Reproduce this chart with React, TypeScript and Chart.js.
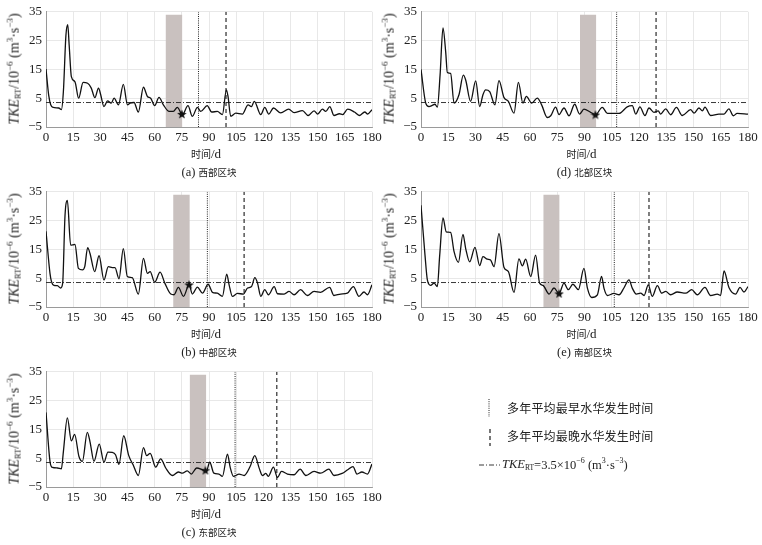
import { useEffect, useRef } from "react";
import { Chart, registerables } from "chart.js";

Chart.register(...registerables);

// ---- data ----
const tkeThreshold = 3.5;
const bandTop = 34;

// (a) 西部区块
const westDays = [0, 1.5, 2.6, 4, 7, 8.5, 9.6, 11, 12, 12.8, 14, 16, 18, 20.5, 23, 25, 27, 29, 30.2, 32, 34, 36, 37.6, 40, 42.7, 45, 46.4, 48.6, 51, 53.8, 56, 57.8, 60, 62.4, 64.8, 68, 70.3, 72.5, 75.3, 78.4, 80.8, 83.6, 85.4, 89, 91.5, 94.6, 97.4, 99.6, 100.5, 102, 104.8, 108.4, 111.6, 113.4, 115, 118.6, 120.8, 123, 125.6, 129.6, 134, 137, 141.6, 144.8, 148, 150, 152.6, 154.5, 156.7, 159, 162, 163.8, 166.6, 170.3, 173, 176, 177.6, 180];
const westTke = [15.1, 6, 2.7, 1.8, 1.6, 1.0, 7.3, 26.8, 30.5, 23.4, 12.5, 10.7, 5, 10.5, 10.2, 8.5, 5.2, 8.5, 6.2, 2.1, 4.1, 3.3, 5, 2.7, 9.8, 2.7, 3.3, 3.5, 0.2, 8.8, 5.6, 5, 2.4, 5.3, 2.7, 0.4, 0.4, 1.8, -0.7, 2.4, -1.3, 1.8, 0.4, 2.4, 0.2, 0.4, -0.7, 7.9, 5.6, -1.3, -0.2, -0.5, 2.7, 2.1, 3.9, -0.7, 1.8, -0.5, 1.6, -0.1, 1.2, 0, 0.7, -1, 0.6, -0.5, 1.2, 0.4, 2.1, -1, -0.4, -0.7, 1.2, 0.2, -1, 0.2, -0.5, 1];

// (d) 北部区块
const northDays = [0, 2.6, 4.4, 6.2, 7.7, 9, 10.5, 12.1, 13.6, 14.5, 16.3, 18.2, 20.9, 23.3, 24.6, 27.3, 30.1, 32.3, 34.1, 35.6, 37.8, 40.7, 42.9, 45.7, 48.1, 51.2, 53.6, 56.1, 58, 60.9, 64, 66.4, 69.5, 71.4, 74.1, 76, 78.7, 81.5, 84.6, 87.3, 89.7, 93.4, 96.1, 99.8, 102.6, 109, 113.5, 116.3, 118.2, 120.5, 123.3, 125.5, 128.2, 130.6, 131.9, 134.7, 137.4, 140.6, 143.8, 148.4, 150.3, 153, 154.9, 156.3, 159.4, 164, 166.8, 169.5, 171.9, 174, 180];
const northTke = [15, 3.3, 2.1, 2.5, 2.9, 1.9, 13, 29.4, 21, 13.9, 13.6, 3.3, 6.2, 13, 11.3, 3.9, 11, 2.1, 6.2, 7.9, 7.3, 2.7, 11.1, 5.2, 3.9, -0.2, 10.5, 3.3, 5.6, 3.3, 5, 2.7, -1.7, -1.1, 1.9, -0.7, 1.6, -1.1, 2.9, -0.5, 1.2, 0.1, -0.7, 1.8, -0.3, -0.3, 2, 2.4, -0.5, 2, -1, 1.6, 0.1, 0.6, -0.5, 1.3, -0.75, 1.8, -1, 1, -0.2, 1.6, 0.6, 1.9, -1, -0.5, -0.5, 1.3, -1.1, -0.3, -0.5];

// (b) 中部区块
const centralDays = [0, 2.2, 3, 4.4, 6.3, 8.1, 9.2, 10.5, 11.8, 13.6, 16, 17.9, 20.1, 21.4, 23, 24.3, 26.9, 29.3, 32, 34.4, 36.6, 38.1, 40.3, 42.7, 44.9, 47.6, 51, 53.8, 56, 57.5, 60, 63, 65.6, 68.9, 70.7, 73.1, 75.9, 79, 80.8, 83.6, 86.4, 89.5, 91.9, 94.6, 97.4, 99.8, 101.1, 102.9, 105.7, 109, 111.3, 113.5, 115.3, 116.8, 118.6, 120.8, 122.8, 126, 127.8, 131.5, 134.2, 137, 140.6, 144.3, 148, 151.6, 156.6, 159, 162.7, 166.4, 169.7, 172.8, 175.6, 177.5, 180];
const centralTke = [21.3, 6.7, 3.9, 2.5, 2.4, 1.6, 3.3, 26.8, 32, 16.5, 16.7, 8.4, 7.9, 9, 15.6, 13.6, 7.3, 12.8, 4.4, 9, 8.7, 8.7, 4.8, 15.3, 5.6, 5.2, -0.5, 11.9, 6.7, 7.3, 3.6, 7.1, 3.3, -0.5, -0.75, 1.8, -1.3, 2.7, -0.5, 1.9, -0.2, 2.9, 0.1, -0.2, -1.3, 6.4, 2.7, -1.3, -0.3, -0.5, 1.6, 2.1, 5.2, 3.3, -1.3, 1, -0.75, 2.1, -0.4, -0.5, 0.4, -0.75, 1, -1, 0.4, 0.1, 1.8, -1, -0.5, -0.2, 2.1, -1.3, 0.2, -0.75, 2.7];

// (e) 南部区块
const southDays = [0, 2.2, 3.5, 5.3, 7.2, 9, 10.3, 12.1, 13.9, 16.3, 18.2, 20.6, 23.1, 24.6, 26.8, 29.7, 32.3, 34.1, 36.5, 38.3, 40.2, 42.9, 45.7, 48.1, 51.2, 53.9, 55.8, 57.6, 60.4, 63.1, 65.3, 67.2, 70.5, 73.2, 76, 78.7, 81.1, 83.6, 86.6, 89.7, 91.6, 94, 97.1, 99.4, 100.7, 102.6, 106.2, 109, 111.7, 114.5, 116.3, 118.5, 120.9, 122.8, 125.1, 127.3, 130.1, 132.5, 134.7, 137.4, 141.1, 145.7, 149, 152.1, 156.3, 159.4, 163.1, 164.9, 166.8, 169.5, 173.2, 175.6, 177.8, 180];
const southTke = [30.3, 13, 4.4, 2.5, 3.3, 2.1, 13, 25.9, 21.1, 20.9, 14.2, 10.5, 20.2, 15.3, 10.7, 15.7, 9.4, 12.5, 11.6, 11.3, 9, 20.5, 8.7, 7.3, 0.1, 11.7, 9.3, 11.6, 5.6, 13, 3.3, 2.5, -0.5, 1.6, -0.3, 3.3, 1, 2.9, 1, 8.4, 1.55, -1.7, -0.75, 5.6, 1.55, -1, -0.3, -0.75, 1.6, 4.4, 1.55, -0.5, -0.2, -1, 2.7, -1.3, 2.4, -0.2, 0.4, -0.75, 0.2, -0.2, 1, -0.75, 1.8, -1, -0.5, -1, 7.5, 1.8, -0.5, 1.8, 0.2, 2.1];

// (c) 东部区块
const eastDays = [0, 2.2, 3.5, 6.3, 8.5, 9.6, 11.8, 14, 15.8, 18.2, 20.1, 22.8, 24.3, 26.5, 29.4, 32, 34.2, 36.6, 38.4, 40.3, 42.9, 45.7, 48.1, 51, 53.8, 55.6, 57.5, 60.6, 63.3, 66.1, 69.8, 73.1, 75.3, 78, 80.2, 83.2, 86.3, 88.5, 90.4, 92.7, 95.5, 97.4, 100.2, 101.7, 103.5, 106.6, 109.4, 112.7, 115.3, 117.7, 119.5, 121.4, 122.7, 125.6, 127.8, 130, 133.3, 137, 140.3, 143.5, 148, 151.6, 156.2, 159, 163.5, 166.6, 169.5, 171.7, 174.4, 177.5, 180];
const eastTke = [20.9, 3.9, 1.8, 1.6, 1.3, 7.3, 19, 11, 13.3, 5.6, 3.9, 14, 10.7, 3.9, 9.9, 3.6, 7.1, 7, 6.2, 2.9, 12.8, 5.9, 2.7, -1, 8.7, 5.9, 6.7, 1.9, 4.8, 1.6, -1, 0.2, -0.2, 0.6, -0.5, 1.6, 1, 0.4, 3.6, -0.2, -0.5, -1.3, 6.4, 1.8, -1.3, -0.5, -1, 2.1, 5.9, 1.55, -1, -0.3, -1.3, 1.9, -1.7, 0.4, -0.5, -0.75, 1.2, -1, 0.4, -0.2, 1.2, -1, -0.3, 1, 2.1, -0.5, 0.2, -0.5, 3];

// panel order on the page: a, d, b, e, c
const regionLabels = ["(a) 西部区块", "(d) 北部区块", "(b) 中部区块", "(e) 南部区块", "(c) 东部区块"];
const seriesDays = [westDays, northDays, centralDays, southDays, eastDays];
const seriesTke = [westTke, northTke, centralTke, southTke, eastTke];
const bandStart = [66, 87.5, 70.2, 67.3, 79.3];
const bandEnd = [75.3, 96.5, 79.4, 76.3, 88.5];
const earliestBloom = [84.2, 107.7, 89.1, 106.4, 104.4];
const latestBloom = [99.4, 129.4, 109.4, 125.5, 127.4];
const starDay = [75, 96, 79, 76, 88];
const starTke = [-0.5, -0.7, 2.8, -0.3, 0.8];

// ---- layout ----
const plotLeft = [46, 421, 46, 421, 46];
const plotTop = [11, 11, 191, 191, 371];
const plotWidth = [326, 327, 326, 327, 326];
const plotHeight = 116;
const axisW = 46;
const padTop = 11;
const padRight = 20;
const xAxisH = 22;

const serif = "'Liberation Serif', 'Times New Roman', serif";
const cjk = "'Liberation Serif', 'Noto Sans CJK SC', serif";

function makeStar(size: number) {
  const c = document.createElement("canvas");
  c.width = size;
  c.height = size;
  const ctx = c.getContext("2d");
  if (!ctx) return c;
  ctx.beginPath();
  for (let i = 0; i < 10; i++) {
    const r = i % 2 === 0 ? size / 2 : (size / 2) * 0.42;
    const a = -Math.PI / 2 + (i * Math.PI) / 5;
    const px = size / 2 + r * Math.cos(a);
    const py = size / 2 + r * Math.sin(a) + size * 0.05;
    if (i === 0) ctx.moveTo(px, py);
    else ctx.lineTo(px, py);
  }
  ctx.closePath();
  ctx.fillStyle = "#111";
  ctx.fill();
  return c;
}

const TkeTitle = ({ size }: { size: number }) => (
  <span>
    <span style={{ fontStyle: "italic" }}>TKE</span>
    <sub style={{ fontSize: size * 0.6, verticalAlign: "-0.25em" }}>RT</sub>
  </span>
);

const Panel = ({ idx }: { idx: number }) => {
  const chartRef = useRef<HTMLCanvasElement>(null);

  useEffect(() => {
    if (!chartRef.current) return;
    const days = seriesDays[idx];
    const tke = seriesTke[idx];
    const points = days.map((d, i) => ({ x: d, y: tke[i] }));
    const tickFont = { family: serif, size: 13 };

    const chart = new Chart(chartRef.current, {
      type: "line",
      data: {
        datasets: [
          {
            data: [{ x: starDay[idx], y: starTke[idx] }],
            showLine: false,
            pointStyle: makeStar(10) as any,
            pointRadius: 5,
            order: 0,
          },
          {
            data: points,
            borderColor: "#111",
            borderWidth: 1.3,
            pointRadius: 0,
            cubicInterpolationMode: "monotone",
            order: 1,
          },
          {
            data: [
              { x: 0, y: tkeThreshold },
              { x: 180, y: tkeThreshold },
            ],
            borderColor: "#222",
            borderWidth: 0.9,
            borderDash: [5, 2, 1, 2],
            pointRadius: 0,
            order: 2,
          },
          {
            data: [
              { x: earliestBloom[idx], y: -5 },
              { x: earliestBloom[idx], y: 35 },
            ],
            borderColor: "#222",
            borderWidth: 1,
            borderDash: [1, 1.2],
            pointRadius: 0,
            order: 3,
          },
          {
            data: [
              { x: latestBloom[idx], y: -5 },
              { x: latestBloom[idx], y: 35 },
            ],
            borderColor: "#555",
            borderWidth: 1.5,
            borderDash: [4, 3],
            pointRadius: 0,
            order: 3,
          },
          {
            data: [
              { x: bandStart[idx], y: bandTop },
              { x: bandEnd[idx], y: bandTop },
            ],
            borderWidth: 0,
            borderColor: "rgba(0,0,0,0)",
            backgroundColor: "#c9c1bf",
            fill: { value: -5 },
            pointRadius: 0,
            order: 4,
          },
        ],
      },
      options: {
        animation: false,
        responsive: true,
        maintainAspectRatio: false,
        layout: { padding: { top: padTop, right: padRight, left: 0, bottom: 0 } },
        plugins: { legend: { display: false }, tooltip: { enabled: false } },
        scales: {
          x: {
            type: "linear",
            min: 0,
            max: 180,
            afterFit: (s: any) => {
              s.height = xAxisH;
            },
            ticks: {
              stepSize: 15,
              autoSkip: false,
              maxRotation: 0,
              padding: 3,
              font: tickFont,
              color: "#222",
            },
            grid: { color: "#e2e2e2", lineWidth: 0.8, drawTicks: false },
            border: { color: "#9a9a9a" },
          },
          y: {
            min: -5,
            max: 35,
            afterFit: (s: any) => {
              s.width = axisW;
            },
            ticks: {
              stepSize: 5,
              padding: 4,
              font: tickFont,
              color: "#222",
              callback: (v: any) =>
                (Number(v) + 5) % 10 === 0 ? (Number(v) < 0 ? "−" + Math.abs(Number(v)) : String(v)) : "",
            },
            grid: { color: "#e2e2e2", lineWidth: 0.8, drawTicks: false },
            border: { color: "#9a9a9a" },
          },
        },
      },
    } as any);

    return () => {
      chart.destroy();
    };
  }, [idx]);

  const L = plotLeft[idx];
  const T = plotTop[idx];
  const W = plotWidth[idx];
  const B = T + plotHeight;
  const cx = L + W / 2;

  return (
    <>
      <div
        style={{
          position: "absolute",
          left: L - axisW,
          top: T - padTop,
          width: W + axisW + padRight,
          height: plotHeight + padTop + xAxisH,
        }}
      >
        <canvas ref={chartRef} />
      </div>
      <div
        style={{
          position: "absolute",
          left: L - 32,
          top: T + plotHeight / 2,
          transform: "translate(-50%, -50%) rotate(-90deg)",
          whiteSpace: "nowrap",
          fontFamily: serif,
          fontSize: 14,
          lineHeight: "16px",
          color: "#222",
        }}
      >
        <TkeTitle size={14} />
        /10<sup style={{ fontSize: 9 }}>−6</sup> (m<sup style={{ fontSize: 9 }}>3</sup>·s
        <sup style={{ fontSize: 9 }}>−3</sup>)
      </div>
      <div
        style={{
          position: "absolute",
          left: cx - 3,
          top: B + 27,
          transform: "translate(-50%, -50%)",
          whiteSpace: "nowrap",
          fontFamily: cjk,
          fontSize: 13,
          lineHeight: "16px",
          color: "#222",
        }}
      >
        <span style={{ fontSize: 10 }}>时间</span>/d
      </div>
      <div
        style={{
          position: "absolute",
          left: cx,
          top: B + 45,
          transform: "translate(-50%, -50%)",
          whiteSpace: "nowrap",
          fontFamily: cjk,
          fontSize: 12.5,
          lineHeight: "16px",
          color: "#222",
        }}
      >
        {regionLabels[idx].slice(0, 4)}
        <span style={{ fontSize: 9.5 }}>{regionLabels[idx].slice(4)}</span>
      </div>
    </>
  );
};

const legendText: React.CSSProperties = {
  position: "absolute",
  whiteSpace: "nowrap",
  fontFamily: cjk,
  fontSize: 12,
  letterSpacing: 0.2,
  lineHeight: "16px",
  color: "#222",
  transform: "translateY(-50%)",
};

const App = () => {
  return (
    <div
      style={{
        position: "absolute",
        left: 0,
        top: 0,
        width: 762,
        height: 545,
        background: "#fff",
        overflow: "hidden",
      }}
    >
      {regionLabels.map((_, i) => (
        <Panel key={i} idx={i} />
      ))}

      <svg style={{ position: "absolute", left: 484, top: 396, overflow: "visible" }} width={12} height={60}>
        <line x1={5} y1={3} x2={5} y2={21} stroke="#222" strokeWidth={1} strokeDasharray="1 1.2" />
        <line x1={6} y1={33} x2={6} y2={50} stroke="#555" strokeWidth={1.6} strokeDasharray="4 3" />
      </svg>
      <div style={{ ...legendText, left: 507, top: 409 }}>多年平均最早水华发生时间</div>
      <div style={{ ...legendText, left: 507, top: 437 }}>多年平均最晚水华发生时间</div>

      <svg style={{ position: "absolute", left: 478, top: 460 }} width={24} height={10}>
        <line x1={1} y1={5} x2={22} y2={5} stroke="#222" strokeWidth={0.9} strokeDasharray="5 2 1 2" />
      </svg>
      <div style={{ ...legendText, left: 502, top: 465, fontFamily: serif, fontSize: 12.5, letterSpacing: 0 }}>
        <TkeTitle size={12.5} />
        =3.5×10<sup style={{ fontSize: 8 }}>−6</sup> (m<sup style={{ fontSize: 8 }}>3</sup>·s
        <sup style={{ fontSize: 8 }}>−3</sup>)
      </div>
    </div>
  );
};

export default App;
